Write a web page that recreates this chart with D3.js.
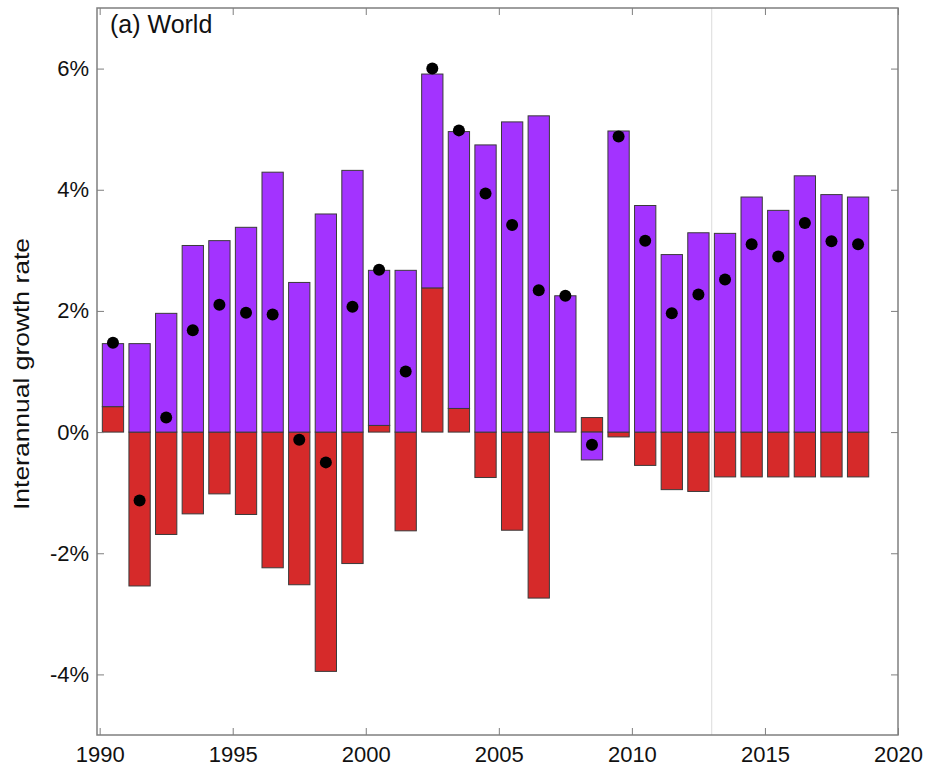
<!DOCTYPE html>
<html>
<head>
<meta charset="utf-8">
<script src="https://cdn.jsdelivr.net/npm/d3@7"></script>
<style>
html,body{margin:0;padding:0;background:#fff;}
svg{display:block;}
text{font-family:"Liberation Sans",Arial,Helvetica,sans-serif;}
</style>
</head>
<body>
<svg id="chart" width="929" height="771"></svg>
<script>
const years = [1990,1991,1992,1993,1994,1995,1996,1997,1998,1999,2000,2001,2002,2003,2004,2005,2006,2007,2008,2009,2010,2011,2012,2013,2014,2015,2016,2017,2018];
const purpleVals = [1.04,1.46,1.96,3.08,3.16,3.38,4.29,2.47,3.60,4.32,2.56,2.67,3.53,4.57,4.74,5.12,5.22,2.25,-0.46,4.97,3.74,2.93,3.29,3.28,3.88,3.66,4.23,3.92,3.88];
const redVals = [0.42,-2.54,-1.69,-1.35,-1.02,-1.36,-2.24,-2.52,-3.95,-2.17,0.11,-1.63,2.38,0.39,-0.75,-1.62,-2.74,0,0.24,-0.08,-0.55,-0.95,-0.98,-0.74,-0.74,-0.74,-0.74,-0.74,-0.74];
const netVals = [1.475,-1.13,0.24,1.68,2.10,1.97,1.94,-0.125,-0.50,2.07,2.68,1.00,6.00,4.98,3.94,3.42,2.34,2.25,-0.21,4.88,3.16,1.96,2.27,2.52,3.10,2.90,3.45,3.15,3.10];
const yTicks = [-4,-2,0,2,4,6];
const xTicks = [1990,1995,2000,2005,2010,2015,2020];
const markerYear = 2013;

const svg = d3.select("#chart");
const L = 97, R = 898, T = 8, B = 735;
const x = d3.scaleLinear().domain([1989.9, 2020]).range([L, R]);
const y = d3.scaleLinear().domain([-5, 7]).range([B, T]);

const purple = "#a333ff", red = "#d62a2a", frame = "#7f7f7f";

// vertical marker line
svg.append("line")
  .attr("x1", x(markerYear)).attr("x2", x(markerYear))
  .attr("y1", T).attr("y2", B)
  .attr("stroke", "#dcdcdc").attr("stroke-width", 1);

// bars
const rows = years.map((yr, i) => ({yr, p: purpleVals[i], r: redVals[i], n: netVals[i]}));
const segs = [];
rows.forEach(d => {
  let r0 = 0, r1 = d.r;
  let p0 = 0, p1 = d.p;
  if (d.r > 0 && d.p > 0) { p0 = d.r; p1 = d.r + d.p; }
  else if (d.r < 0 && d.p < 0) { p0 = d.r; p1 = d.r + d.p; }
  if (d.r !== 0) segs.push({yr: d.yr, v0: r0, v1: r1, c: red});
  if (d.p !== 0) segs.push({yr: d.yr, v0: p0, v1: p1, c: purple});
});
svg.append("g").selectAll("rect").data(segs).join("rect")
  .attr("x", d => x(d.yr + 0.1))
  .attr("width", d => x(d.yr + 0.9) - x(d.yr + 0.1))
  .attr("y", d => y(Math.max(d.v0, d.v1)))
  .attr("height", d => Math.abs(y(d.v0) - y(d.v1)))
  .attr("fill", d => d.c)
  .attr("stroke", "#3a3a3a").attr("stroke-width", 1);

// dots
svg.append("g").selectAll("circle").data(rows).join("circle")
  .attr("cx", d => x(d.yr + 0.5))
  .attr("cy", d => y(d.n))
  .attr("r", 6)
  .attr("fill", "#000");

// frame
svg.append("rect").attr("x", L).attr("y", T).attr("width", R - L).attr("height", B - T)
  .attr("fill", "none").attr("stroke", frame).attr("stroke-width", 1.5);

// axes with inward ticks
const fmt = d => d + "%";
const yAxisL = d3.axisLeft(y).tickValues(yTicks).tickFormat(fmt).tickSizeInner(-7).tickSizeOuter(0).tickPadding(14);
const gy = svg.append("g").attr("transform", `translate(${L},0)`).call(yAxisL);
gy.select(".domain").remove();
gy.selectAll("line").attr("stroke", frame);
gy.selectAll("text").attr("font-size", 22).attr("fill", "#111").attr("x", -8);

const yAxisR = d3.axisRight(y).tickValues(yTicks).tickFormat("").tickSizeInner(-7).tickSizeOuter(0);
const gyr = svg.append("g").attr("transform", `translate(${R},0)`).call(yAxisR);
gyr.select(".domain").remove();
gyr.selectAll("line").attr("stroke", frame);

const xAxisB = d3.axisBottom(x).tickValues(xTicks).tickFormat(d3.format("d")).tickSizeInner(-7).tickSizeOuter(0).tickPadding(12);
const gx = svg.append("g").attr("transform", `translate(0,${B})`).call(xAxisB);
gx.select(".domain").remove();
gx.selectAll("line").attr("stroke", frame);
gx.selectAll("text").attr("font-size", 22).attr("fill", "#111").attr("y", 11);

const xAxisT = d3.axisTop(x).tickValues(xTicks).tickFormat("").tickSizeInner(-7).tickSizeOuter(0);
const gxt = svg.append("g").attr("transform", `translate(0,${T})`).call(xAxisT);
gxt.select(".domain").remove();
gxt.selectAll("line").attr("stroke", frame);

// labels
svg.append("text")
  .attr("transform", `translate(29,374) rotate(-90)`)
  .attr("text-anchor", "middle")
  .attr("font-size", 22).attr("fill", "#111")
  .attr("textLength", 272).attr("lengthAdjust", "spacingAndGlyphs")
  .text("Interannual growth rate");

svg.append("text")
  .attr("x", 110).attr("y", 33)
  .attr("font-size", 25).attr("fill", "#111")
  .text("(a) World");
</script>
</body>
</html>
